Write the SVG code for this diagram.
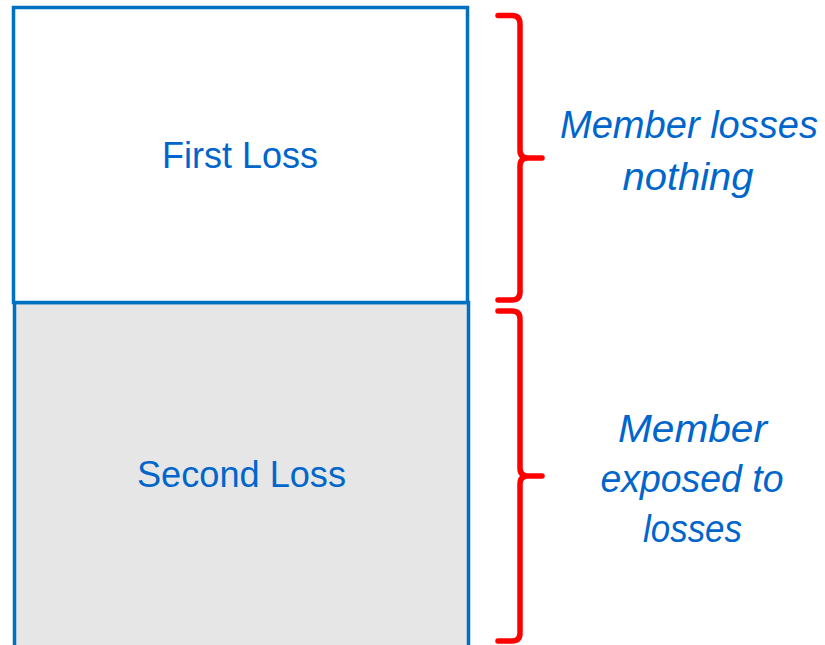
<svg xmlns="http://www.w3.org/2000/svg" width="825" height="645" viewBox="0 0 825 645">
<style>
.box{stroke:#0070C0;stroke-width:3.5}
.lbl{font-family:"Liberation Sans",Arial,sans-serif;font-size:37px;fill:#0066CC;text-anchor:middle}
.note{font-family:"Liberation Sans",Arial,sans-serif;font-size:38px;font-style:italic;fill:#0066CC;text-anchor:middle}
.brace{fill:none;stroke:#FF0000;stroke-width:5.5;stroke-linecap:round;stroke-linejoin:round}
</style>
<rect width="825" height="645" fill="#FFFFFF"/>
<g id="second-loss">
<rect class="box" x="14.5" y="302.5" width="454" height="360" fill="#E6E6E6"/>
<text class="lbl" x="241.5" y="487" textLength="209" lengthAdjust="spacingAndGlyphs">Second Loss</text>
</g>
<g id="first-loss">
<rect class="box" x="13.5" y="7.5" width="454" height="295" fill="#FFFFFF"/>
<text class="lbl" x="240" y="168" textLength="156" lengthAdjust="spacingAndGlyphs">First Loss</text>
</g>
<g id="connectors">
<path class="brace" d="M498,15.5 H512 Q520,15.5 520,24 V150 Q520,158 528,158 H542 M528,158 Q520,158 520,166 V292 Q520,300 512,300 H498"/>
<path class="brace" d="M498,311 H512 Q520,311 520,319 V468 Q520,476 528,476 H542 M528,476 Q520,476 520,484 V633 Q520,641 512,641 H498"/>
</g>
<g id="note-top">
<text class="note" x="689" y="138" textLength="258" lengthAdjust="spacingAndGlyphs">Member losses</text>
<text class="note" x="688" y="190" textLength="131" lengthAdjust="spacingAndGlyphs">nothing</text>
</g>
<g id="note-bottom">
<text class="note" x="692.5" y="442" textLength="149" lengthAdjust="spacingAndGlyphs">Member</text>
<text class="note" x="692" y="492" textLength="183" lengthAdjust="spacingAndGlyphs">exposed to</text>
<text class="note" x="692.5" y="542" textLength="99" lengthAdjust="spacingAndGlyphs">losses</text>
</g>
</svg>
